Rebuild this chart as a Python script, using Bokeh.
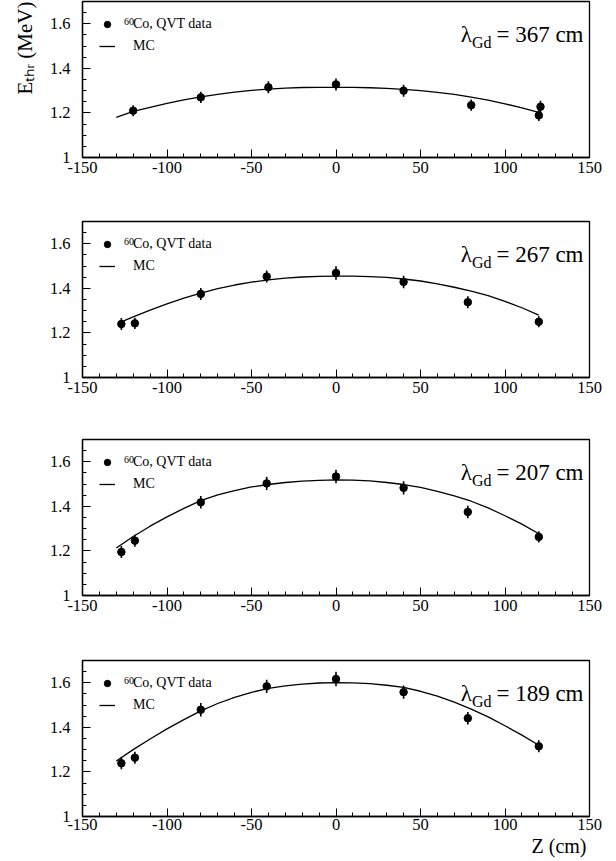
from bokeh.plotting import figure
from bokeh.layouts import column
from bokeh.models import (Range1d, SingleIntervalTicker, NumeralTickFormatter,
                          Label, Legend, LegendItem, Title)
from bokeh.embed import file_html
from bokeh.resources import INLINE

# ---------------- data ----------------
lambda_labels = ["367", "267", "207", "189"]
y_title = "E\u209c\u2095\u1d63 (MeV)"
x_title = "Z (cm)"

z_data_1 = [-120, -80, -40, 0, 40, 80, 120, 121]
e_data_1 = [1.210, 1.270, 1.315, 1.328, 1.300, 1.235, 1.189, 1.228]
err_1 = [0.025, 0.025, 0.027, 0.027, 0.027, 0.025, 0.025, 0.027]

z_data_2 = [-127, -119, -80, -41, 0, 40, 78, 120]
e_data_2 = [1.240, 1.243, 1.375, 1.453, 1.469, 1.429, 1.338, 1.250]
err_2 = [0.027, 0.025, 0.027, 0.027, 0.030, 0.028, 0.027, 0.025]

z_data_3 = [-127, -119, -80, -41, 0, 40, 78, 120]
e_data_3 = [1.195, 1.246, 1.418, 1.503, 1.534, 1.483, 1.375, 1.263]
err_3 = [0.027, 0.027, 0.028, 0.030, 0.030, 0.030, 0.028, 0.025]

z_data_4 = [-127, -119, -80, -41, 0, 40, 78, 120]
e_data_4 = [1.239, 1.264, 1.479, 1.584, 1.617, 1.558, 1.441, 1.315]
err_4 = [0.027, 0.027, 0.030, 0.030, 0.032, 0.030, 0.028, 0.027]

z_mc_1 = [-130, -120, -110, -100, -90, -80, -70, -60, -50, -40, -30, -20, -10,
          0, 10, 20, 30, 40, 50, 60, 70, 80, 90, 100, 110, 120]
mc_1 = [1.180, 1.207, 1.225, 1.243, 1.259, 1.272, 1.283, 1.293, 1.301, 1.307,
        1.311, 1.314, 1.315, 1.315, 1.315, 1.313, 1.310, 1.306, 1.300, 1.292,
        1.283, 1.271, 1.257, 1.241, 1.223, 1.203]

z_mc_2 = [-127, -120, -110, -100, -90, -80, -70, -60, -50, -40, -30, -20, -10,
          0, 10, 20, 30, 40, 50, 60, 70, 80, 90, 100, 110, 120]
mc_2 = [1.250, 1.272, 1.302, 1.330, 1.356, 1.379, 1.399, 1.415, 1.428, 1.438,
        1.446, 1.451, 1.454, 1.455, 1.455, 1.453, 1.449, 1.442, 1.433, 1.420,
        1.405, 1.388, 1.367, 1.342, 1.313, 1.280]

z_mc_3 = [-130, -120, -110, -100, -90, -80, -70, -60, -50, -40, -30, -20, -10,
          0, 10, 20, 30, 40, 50, 60, 70, 80, 90, 100, 110, 120]
mc_3 = [1.213, 1.265, 1.311, 1.353, 1.391, 1.426, 1.451, 1.471, 1.487, 1.498,
        1.507, 1.513, 1.517, 1.519, 1.518, 1.514, 1.507, 1.498, 1.485, 1.467,
        1.447, 1.423, 1.393, 1.358, 1.320, 1.277]

z_mc_4 = [-130, -120, -110, -100, -90, -80, -70, -60, -50, -40, -30, -20, -10,
          0, 10, 20, 30, 40, 50, 60, 70, 80, 90, 100, 110, 120]
mc_4 = [1.249, 1.300, 1.348, 1.393, 1.435, 1.474, 1.507, 1.535, 1.557, 1.5745,
        1.586, 1.594, 1.599, 1.601, 1.600, 1.596, 1.589, 1.579, 1.562, 1.540,
        1.513, 1.482, 1.447, 1.407, 1.365, 1.320]

x_lo, x_hi = -150, 150
y_lo, y_hi = 1.0, 1.7

panels = [
    (z_data_1, e_data_1, err_1, z_mc_1, mc_1),
    (z_data_2, e_data_2, err_2, z_mc_2, mc_2),
    (z_data_3, e_data_3, err_3, z_mc_3, mc_3),
    (z_data_4, e_data_4, err_4, z_mc_4, mc_4),
]

FONT = "Liberation Serif"
FRAME_W = 507
FRAME_H = 156
LEFT = 81
RIGHT = 20
PX_PER_X = FRAME_W / (x_hi - x_lo)

# (border_top, border_bottom) for each panel
geoms = [(1, 60), (4, 58), (4, 61), (4, 42)]


def xd(px_from_frame_left):
    return x_lo + px_from_frame_left / PX_PER_X


figs = []
for i, (zd, ed, er, zm, em) in enumerate(panels):
    top, bot = geoms[i]
    p = figure(title=None, output_backend="svg", toolbar_location=None,
               frame_width=FRAME_W, frame_height=FRAME_H,
               min_border_left=LEFT, min_border_right=RIGHT,
               min_border_top=top, min_border_bottom=bot,
               x_range=Range1d(x_lo, x_hi), y_range=Range1d(y_lo, y_hi),
               background_fill_color="white", border_fill_color="white")
    p.xgrid.visible = False
    p.ygrid.visible = False
    p.outline_line_color = "black"
    p.outline_line_width = 1.3

    p.xaxis.ticker = SingleIntervalTicker(interval=50, num_minor_ticks=5)
    p.xaxis.formatter = NumeralTickFormatter(format="0")
    p.yaxis.ticker = SingleIntervalTicker(interval=0.2, num_minor_ticks=4)
    p.yaxis.formatter = NumeralTickFormatter(format="0.[0]")
    for ax in (p.xaxis[0], p.yaxis[0]):
        ax.major_tick_in = 8
        ax.major_tick_out = 0
        ax.minor_tick_in = 4
        ax.minor_tick_out = 0
        ax.axis_line_color = "black"
        ax.axis_line_width = 1.3
        ax.major_tick_line_color = "black"
        ax.minor_tick_line_color = "black"
        ax.major_label_text_font = FONT
        ax.major_label_text_font_size = "16.5px"
        ax.major_label_text_color = "black"
    p.xaxis[0].major_label_standoff = 4 if i < 3 else 2
    p.yaxis[0].major_label_standoff = 12

    if i == 0:
        p.add_layout(Title(text=y_title, align="right", offset=0, standoff=20,
                           text_font=FONT, text_font_size="21px",
                           text_font_style="normal", text_color="black"), "left")
    if i == 3:
        p.add_layout(Title(text=x_title, align="right", offset=3, standoff=0,
                           text_font=FONT, text_font_size="20px",
                           text_font_style="normal", text_color="black"), "below")

    lo = [e - d for e, d in zip(ed, er)]
    hi = [e + d for e, d in zip(ed, er)]
    p.segment(x0=zd, y0=lo, x1=zd, y1=hi, line_color="black", line_width=1.6)
    pts = p.scatter(zd, ed, size=7.5, marker="circle", fill_color="black",
                    line_color="black")
    mc = p.line(zm, em, line_color="black", line_width=1.3)

    leg = Legend(items=[LegendItem(label="Co, QVT data", renderers=[pts]),
                        LegendItem(label="MC", renderers=[mc])],
                 location=(17, 101), padding=0, margin=0, spacing=2,
                 glyph_width=16, glyph_height=20, label_height=20,
                 label_standoff=18, label_text_font=FONT,
                 label_text_font_size="14px", label_text_color="black",
                 background_fill_alpha=0, border_line_alpha=0)
    p.add_layout(leg)
    # superscript mass number in front of "Co"
    p.add_layout(Label(x=xd(51.5), y=1.609, text="60", text_align="right",
                       text_baseline="alphabetic", text_font=FONT,
                       text_font_size="10px", text_color="black"))

    # lambda annotation
    p.add_layout(Label(x=xd(501), y=1.551, text="= " + lambda_labels[i] + " cm",
                       text_align="right", text_baseline="alphabetic",
                       text_font=FONT, text_font_size="23px", text_color="black"))
    p.add_layout(Label(x=xd(409), y=1.515, text="Gd",
                       text_align="right", text_baseline="alphabetic",
                       text_font=FONT, text_font_size="16px", text_color="black"))
    p.add_layout(Label(x=xd(389.5), y=1.551, text="\u03bb",
                       text_align="right", text_baseline="alphabetic",
                       text_font=FONT, text_font_size="23px", text_color="black"))
    figs.append(p)

layout = column(*figs, spacing=0)
open("out.html", "w").write(file_html(layout, INLINE))
